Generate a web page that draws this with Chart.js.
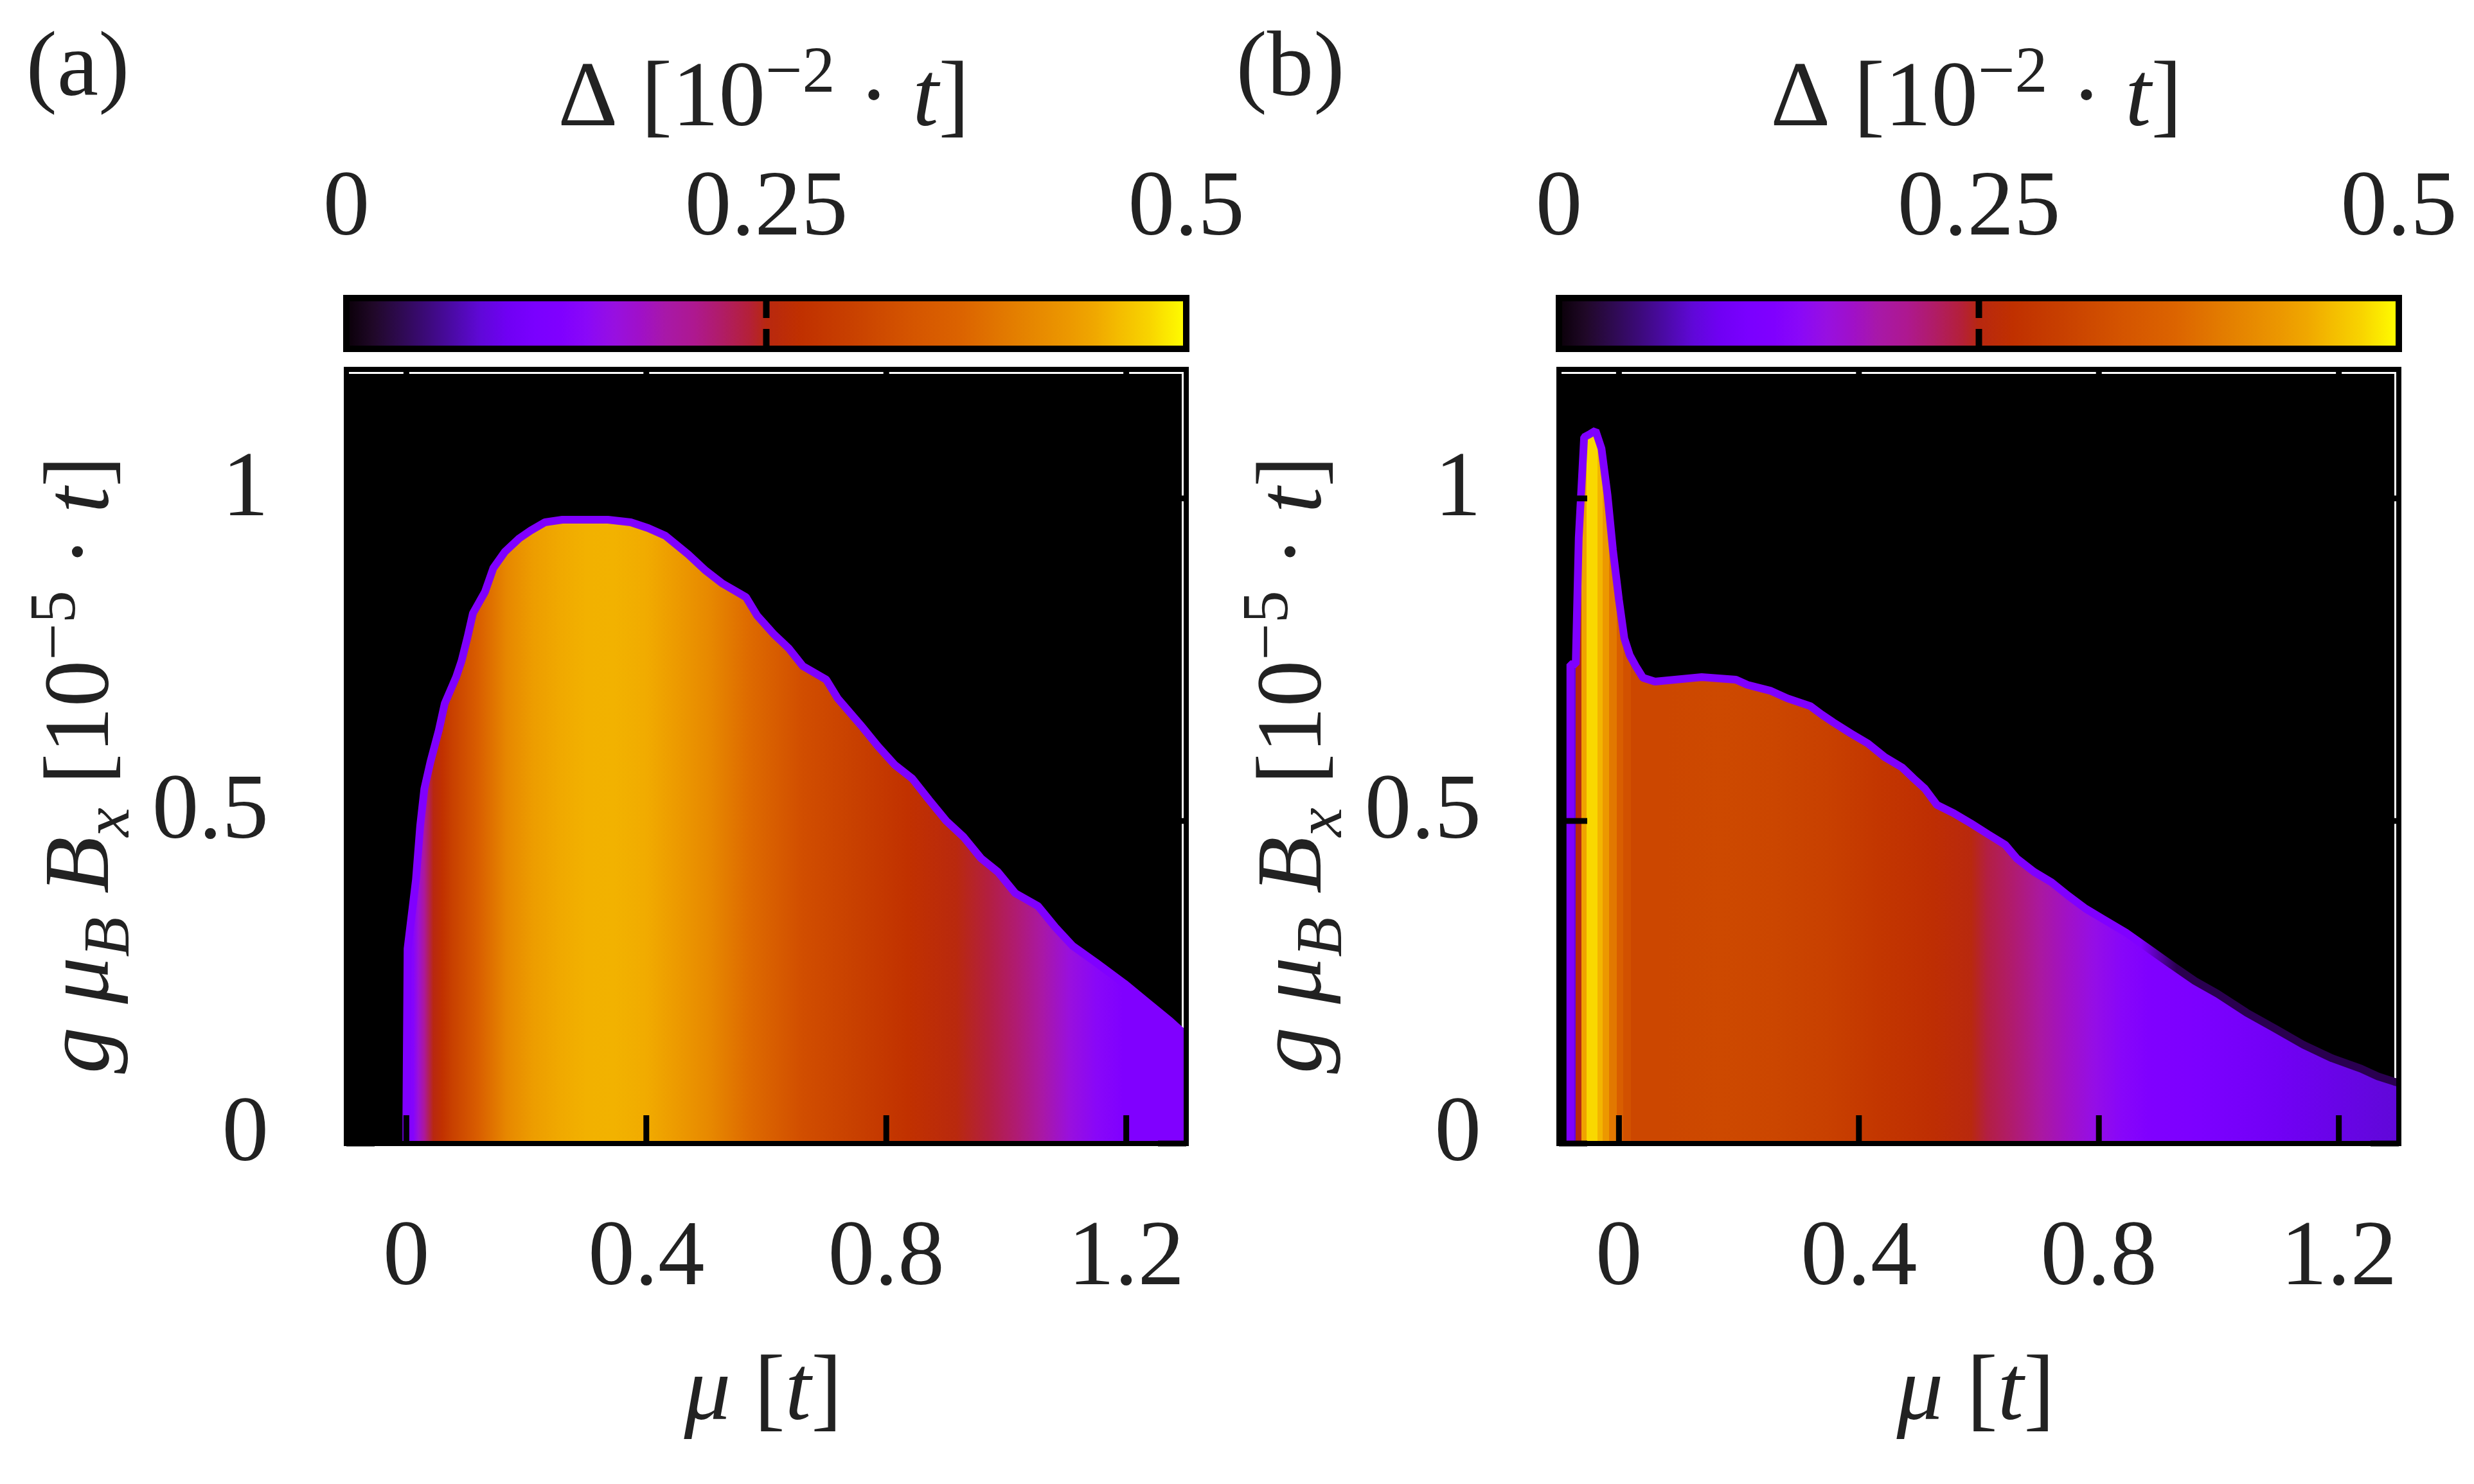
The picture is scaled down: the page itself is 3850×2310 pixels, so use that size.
<!doctype html>
<html lang="en">
<head>
<meta charset="utf-8">
<title>Gap maps</title>
<style>
  * { margin: 0; padding: 0; }
  body { width: 3850px; height: 2310px; background: #fff; overflow: hidden; position: relative; }
  .panel { position: absolute; top: 0; width: 1966px; height: 2310px; }
  #panelA { left: 0; }
  #panelB { left: 1887px; }
</style>
</head>
<body>
<div class="panel" id="panelA"><canvas id="chartA"></canvas></div>
<div class="panel" id="panelB"><canvas id="chartB"></canvas></div>
<script src="https://cdn.jsdelivr.net/npm/chart.js"></script>
<script>
// axes
const muTicks = [0, 0.4, 0.8, 1.2];
const muTickLabels = ['0', '0.4', '0.8', '1.2'];
const bTicks = [0, 0.5, 1];
const bTickLabels = ['0', '0.5', '1'];
const cbTicks = [0, 0.25, 0.5];
const cbTickLabels = ['0', '0.25', '0.5'];

// colour scale (Delta -> colour)
const cmapPos = [0, 0.016, 0.032, 0.048, 0.064, 0.08, 0.096, 0.112, 0.128, 0.143, 0.16, 0.175, 0.19, 0.207,
  0.223, 0.24, 0.25, 0.27, 0.30, 0.335, 0.367, 0.40, 0.43, 0.446, 0.46, 0.478, 0.5];
const cmapCol = ['#0a0008', '#200828', '#2e0a50', '#3c0a7a', '#4c0aa8', '#6008d8', '#7000f4', '#7a00ff', '#8000ff',
  '#8a08f8', '#9810e0', '#a010c8', '#a818a8', '#ae1890', '#b01c68', '#b42038', '#b82810', '#c03000', '#c84000',
  '#d45400', '#dc6400', '#e48000', '#ec9800', '#f0a800', '#f4bc00', '#f8d400', '#ffff00'];

// panel (a): edge of the gapped region, and Delta along mu
const edgeMuA = [0.000, 0.000, 0.002, 0.016, 0.023, 0.030, 0.040, 0.054, 0.064, 0.083, 0.092, 0.102, 0.111, 0.131,
  0.145, 0.164, 0.188, 0.207, 0.231, 0.260, 0.336, 0.374, 0.403, 0.432, 0.470, 0.499, 0.527, 0.566, 0.585, 0.613,
  0.637, 0.661, 0.700, 0.719, 0.757, 0.786, 0.814, 0.843, 0.871, 0.900, 0.929, 0.958, 0.986, 1.015, 1.053, 1.082,
  1.111, 1.149, 1.197, 1.235, 1.273, 1.292, 1.300];
const edgeBA = [0.000, 0.046, 0.302, 0.409, 0.492, 0.550, 0.591, 0.640, 0.682, 0.723, 0.748, 0.785, 0.822, 0.855,
  0.892, 0.917, 0.938, 0.950, 0.963, 0.967, 0.967, 0.963, 0.954, 0.942, 0.913, 0.888, 0.868, 0.847, 0.818, 0.789,
  0.768, 0.740, 0.719, 0.690, 0.649, 0.616, 0.587, 0.566, 0.533, 0.500, 0.475, 0.442, 0.421, 0.388, 0.368, 0.335,
  0.306, 0.281, 0.248, 0.219, 0.190, 0.174, 0.170];
const profMuA = [-0.100, 0.000, 0.012, 0.020, 0.030, 0.045, 0.060, 0.076, 0.120, 0.168, 0.212, 0.257, 0.300, 0.346,
  0.400, 0.436, 0.507, 0.570, 0.660, 0.748, 0.837, 0.917, 0.970, 1.015, 1.060, 1.105, 1.150, 1.194, 1.300];
const profDeltaA = [0.128, 0.128, 0.135, 0.165, 0.200, 0.250, 0.272, 0.300, 0.355, 0.410, 0.435, 0.447, 0.452, 0.453,
  0.448, 0.437, 0.410, 0.375, 0.325, 0.300, 0.272, 0.252, 0.237, 0.220, 0.192, 0.162, 0.142, 0.128, 0.128];

// panel (b)
const edgeMuB = [-0.081, -0.081, -0.072, -0.067, -0.058, -0.048, -0.039, -0.029, -0.019, -0.010, 0.000, 0.009, 0.018,
  0.028, 0.040, 0.060, 0.138, 0.195, 0.214, 0.252, 0.281, 0.319, 0.338, 0.357, 0.386, 0.415, 0.443, 0.472, 0.491,
  0.510, 0.530, 0.558, 0.587, 0.616, 0.644, 0.663, 0.692, 0.721, 0.749, 0.778, 0.807, 0.845, 0.883, 0.921, 0.960,
  0.998, 1.046, 1.094, 1.141, 1.189, 1.237, 1.265, 1.292, 1.300];
const edgeBB = [0.000, 0.743, 0.743, 0.939, 1.095, 1.100, 1.105, 1.077, 1.005, 0.920, 0.843, 0.783, 0.757,
  0.740, 0.722, 0.716, 0.723, 0.719, 0.711, 0.702, 0.690, 0.678, 0.665, 0.653, 0.636, 0.620, 0.599, 0.583, 0.566,
  0.550, 0.525, 0.512, 0.496, 0.479, 0.463, 0.442, 0.421, 0.405, 0.384, 0.364, 0.348, 0.327, 0.302, 0.277, 0.252,
  0.232, 0.203, 0.178, 0.153, 0.132, 0.116, 0.104, 0.096, 0.094];
const profMuB = [-0.100, -0.072, -0.072, -0.063, -0.063, -0.054, -0.054, -0.036, -0.036, -0.027, -0.027, -0.016,
  -0.016, -0.004, -0.004, 0.007, 0.007, 0.020, 0.020, 0.080, 0.170, 0.260, 0.350, 0.435, 0.524, 0.587, 0.614, 0.658,
  0.703, 0.747, 0.792, 0.837, 0.881, 0.970, 1.040, 1.100, 1.200, 1.300];
const profDeltaB = [0.085, 0.085, 0.250, 0.250, 0.440, 0.440, 0.480, 0.480, 0.455, 0.455, 0.430, 0.430,
  0.390, 0.390, 0.355, 0.355, 0.330, 0.330, 0.312, 0.312, 0.316, 0.310, 0.300, 0.282, 0.266, 0.252, 0.236, 0.220,
  0.196, 0.176, 0.156, 0.140, 0.128, 0.116, 0.105, 0.097, 0.088, 0.080];
const darkEdgeFromB = 0.9;

const FONT = '"Liberation Serif", "DejaVu Serif", serif';
const FS = 145;
const TEXT = '#222';
const EDGE = '#8000ff';
const DARK_EDGE = '#2a0050';
const TL = 44, TW = 9;

function hexRgb(h) {
  return [parseInt(h.slice(1, 3), 16), parseInt(h.slice(3, 5), 16), parseInt(h.slice(5, 7), 16)];
}
function cmap(v) {
  if (v <= cmapPos[0]) return cmapCol[0];
  for (let i = 1; i < cmapPos.length; i++) {
    if (v <= cmapPos[i]) {
      const f = (v - cmapPos[i - 1]) / (cmapPos[i] - cmapPos[i - 1]);
      const a = hexRgb(cmapCol[i - 1]), b = hexRgb(cmapCol[i]);
      return 'rgb(' + a.map((c, k) => Math.round(c + (b[k] - c) * f)).join(',') + ')';
    }
  }
  return cmapCol[cmapCol.length - 1];
}

function areaOffset(chart, m) {
  const area = chart.chartArea;
  const off = (chart.scales.x.getPixelForValue(m) - area.left) / (area.right - area.left);
  return Math.min(1, Math.max(0, off));
}

function heatFill(profMu, profDelta) {
  return function (context) {
    const chart = context.chart;
    const area = chart.chartArea;
    if (!area) return 'rgba(0,0,0,0)';
    const g = chart.ctx.createLinearGradient(area.left, 0, area.right, 0);
    profMu.forEach((m, i) => g.addColorStop(areaOffset(chart, m), cmap(profDelta[i])));
    return g;
  };
}

// edge colour: purple fringe, turning dark from darkFrom on
function edgeStroke(darkFrom) {
  return function (context) {
    const chart = context.chart;
    const area = chart.chartArea;
    if (darkFrom === null || !area) return EDGE;
    const g = chart.ctx.createLinearGradient(area.left, 0, area.right, 0);
    g.addColorStop(0, EDGE);
    g.addColorStop(areaOffset(chart, darkFrom - 0.03), EDGE);
    g.addColorStop(areaOffset(chart, darkFrom + 0.03), DARK_EDGE);
    g.addColorStop(1, DARK_EDGE);
    return g;
  };
}

function runFont(r) {
  return (r.it ? 'italic ' : '') + Math.round(FS * (r.sc || 1)) + 'px ' + FONT;
}
function drawRich(ctx, runs, x, y, rotate) {
  ctx.save();
  ctx.translate(x, y);
  if (rotate) ctx.rotate(-Math.PI / 2);
  let w = 0;
  runs.forEach(r => { ctx.font = runFont(r); w += ctx.measureText(r.t).width; });
  let cx = -w / 2;
  ctx.fillStyle = TEXT;
  ctx.textBaseline = 'alphabetic';
  ctx.textAlign = 'left';
  runs.forEach(r => {
    ctx.font = runFont(r);
    ctx.fillText(r.t, cx, (r.dy || 0) * FS);
    cx += ctx.measureText(r.t).width;
  });
  ctx.restore();
}

const cbTitle = [{t: 'Δ [10'}, {t: '−2', sc: 0.7, dy: -0.36}, {t: ' · '}, {t: 't', it: true}, {t: ']'}];
const yTitle = [{t: 'g', it: true}, {t: ' '}, {t: 'μ', it: true}, {t: 'B', it: true, sc: 0.7, dy: 0.22},
  {t: ' '}, {t: 'B', it: true}, {t: 'x', it: true, sc: 0.7, dy: 0.22}, {t: ' [10'},
  {t: '−5', sc: 0.7, dy: -0.36}, {t: ' · '}, {t: 't', it: true}, {t: ']'}];
const xTitle = [{t: 'μ', it: true}, {t: ' ['}, {t: 't', it: true}, {t: ']'}];

const heatFrame = {
  id: 'heatFrame',
  beforeDatasetsDraw(chart) {
    const a = chart.chartArea, c = chart.ctx;
    c.save();
    c.fillStyle = '#000';
    c.fillRect(a.left, a.top, a.right - a.left, a.bottom - a.top);
    c.fillStyle = '#fff';
    c.fillRect(a.left + 4, a.top + 4, a.right - a.left - 8, 3);
    c.fillRect(a.right - 7, a.top + 4, 3, a.bottom - a.top - 8);
    c.restore();
  },
  afterDatasetsDraw(chart) {
    const a = chart.chartArea, c = chart.ctx;
    const xs = chart.scales.x, ys = chart.scales.y;
    c.save();
    c.fillStyle = '#000';
    xs.ticks.forEach(t => {
      const p = xs.getPixelForValue(t.value);
      c.fillRect(p - TW / 2, a.bottom - TL, TW, TL);
      c.fillRect(p - TW / 2, a.top, TW, TL);
    });
    ys.ticks.forEach(t => {
      const p = ys.getPixelForValue(t.value);
      c.fillRect(a.left, p - TW / 2, TL, TW);
      c.fillRect(a.right - TL, p - TW / 2, TL, TW);
    });
    c.strokeStyle = '#000';
    c.lineWidth = 8;
    c.strokeRect(a.left, a.top, a.right - a.left, a.bottom - a.top);
    c.restore();
  },
  afterDraw(chart) {
    const a = chart.chartArea, c = chart.ctx;
    const cb = chart.scales.cb;
    const x0 = cb.getPixelForValue(cbTicks[0]);
    const x1 = cb.getPixelForValue(cbTicks[cbTicks.length - 1]);
    const yTop = a.top - 111, yBot = a.top - 32;
    c.save();
    const g = c.createLinearGradient(x0, 0, x1, 0);
    cmapPos.forEach((p, i) => g.addColorStop((cb.getPixelForValue(p) - x0) / (x1 - x0), cmapCol[i]));
    c.fillStyle = g;
    c.fillRect(x0, yTop, x1 - x0, yBot - yTop);
    c.strokeStyle = '#000';
    c.lineWidth = 10;
    c.strokeRect(x0, yTop, x1 - x0, yBot - yTop);
    c.fillStyle = '#000';
    cb.ticks.forEach(t => {
      const p = cb.getPixelForValue(t.value);
      c.fillRect(p - 5, yTop, 10, 31);
      c.fillRect(p - 5, yBot - 31, 10, 31);
    });
    c.restore();
    const mid = (a.left + a.right) / 2;
    drawRich(c, cbTitle, mid - 4, a.top - 380, false);
    drawRich(c, xTitle, mid - 5, a.bottom + 429, false);
    drawRich(c, yTitle, 168, (a.top + a.bottom) / 2 + 13, true);
    drawRich(c, [{t: chart.options.plugins.heatFrame.label}], 121, 148, false);
  }
};

const tickFont = {family: FONT, size: FS, lineHeight: 1.2};
function noPadH(s, h) { s.height = h; s.paddingLeft = 0; s.paddingRight = 0; }

function makePanel(id, label, edgeMu, edgeB, profMu, profDelta, darkFrom) {
  const pts = edgeMu.map((m, i) => ({x: m, y: edgeB[i]}));
  return new Chart(document.getElementById(id), {
    type: 'line',
    data: {
      datasets: [{
        data: pts,
        borderColor: edgeStroke(darkFrom),
        borderWidth: 12,
        borderJoinStyle: 'bevel',
        pointRadius: 0,
        tension: 0,
        fill: 'origin',
        clip: 0,
        backgroundColor: heatFill(profMu, profDelta)
      }]
    },
    plugins: [heatFrame],
    options: {
      responsive: true,
      maintainAspectRatio: false,
      devicePixelRatio: 1,
      animation: false,
      events: [],
      layout: {autoPadding: false, padding: {left: 0, top: 0, right: 120, bottom: 0}},
      plugins: {legend: {display: false}, tooltip: {enabled: false}, heatFrame: {label: label}},
      scales: {
        x: {
          type: 'linear', position: 'bottom', min: -0.1, max: 1.3,
          afterBuildTicks: s => { s.ticks = muTicks.map(v => ({value: v})); },
          afterFit: s => noPadH(s, 530),
          grid: {display: false, drawTicks: false},
          border: {display: false},
          ticks: {font: tickFont, color: TEXT, padding: 94, maxRotation: 0, minRotation: 0, autoSkip: false,
            callback: (v, i) => muTickLabels[i]}
        },
        y: {
          type: 'linear', position: 'left', min: 0, max: 1.2,
          afterBuildTicks: s => { s.ticks = bTicks.map(v => ({value: v})); },
          afterFit: s => { s.width = 539; s.paddingTop = 0; s.paddingBottom = 0; },
          grid: {display: false, drawTicks: false},
          border: {display: false},
          ticks: {font: tickFont, color: TEXT, padding: 121, labelOffset: -12, autoSkip: false,
            callback: (v, i) => bTickLabels[i]}
        },
        cb: {
          type: 'linear', axis: 'x', position: 'top', min: 0, max: 0.5,
          afterBuildTicks: s => { s.ticks = cbTicks.map(v => ({value: v})); },
          afterFit: s => noPadH(s, 575),
          grid: {display: false, drawTicks: false},
          border: {display: false},
          ticks: {font: tickFont, color: TEXT, padding: 161, maxRotation: 0, minRotation: 0, autoSkip: false,
            callback: (v, i) => cbTickLabels[i]}
        }
      }
    }
  });
}

makePanel('chartA', '(a)', edgeMuA, edgeBA, profMuA, profDeltaA, null);
makePanel('chartB', '(b)', edgeMuB, edgeBB, profMuB, profDeltaB, darkEdgeFromB);
</script>
</body>
</html>
